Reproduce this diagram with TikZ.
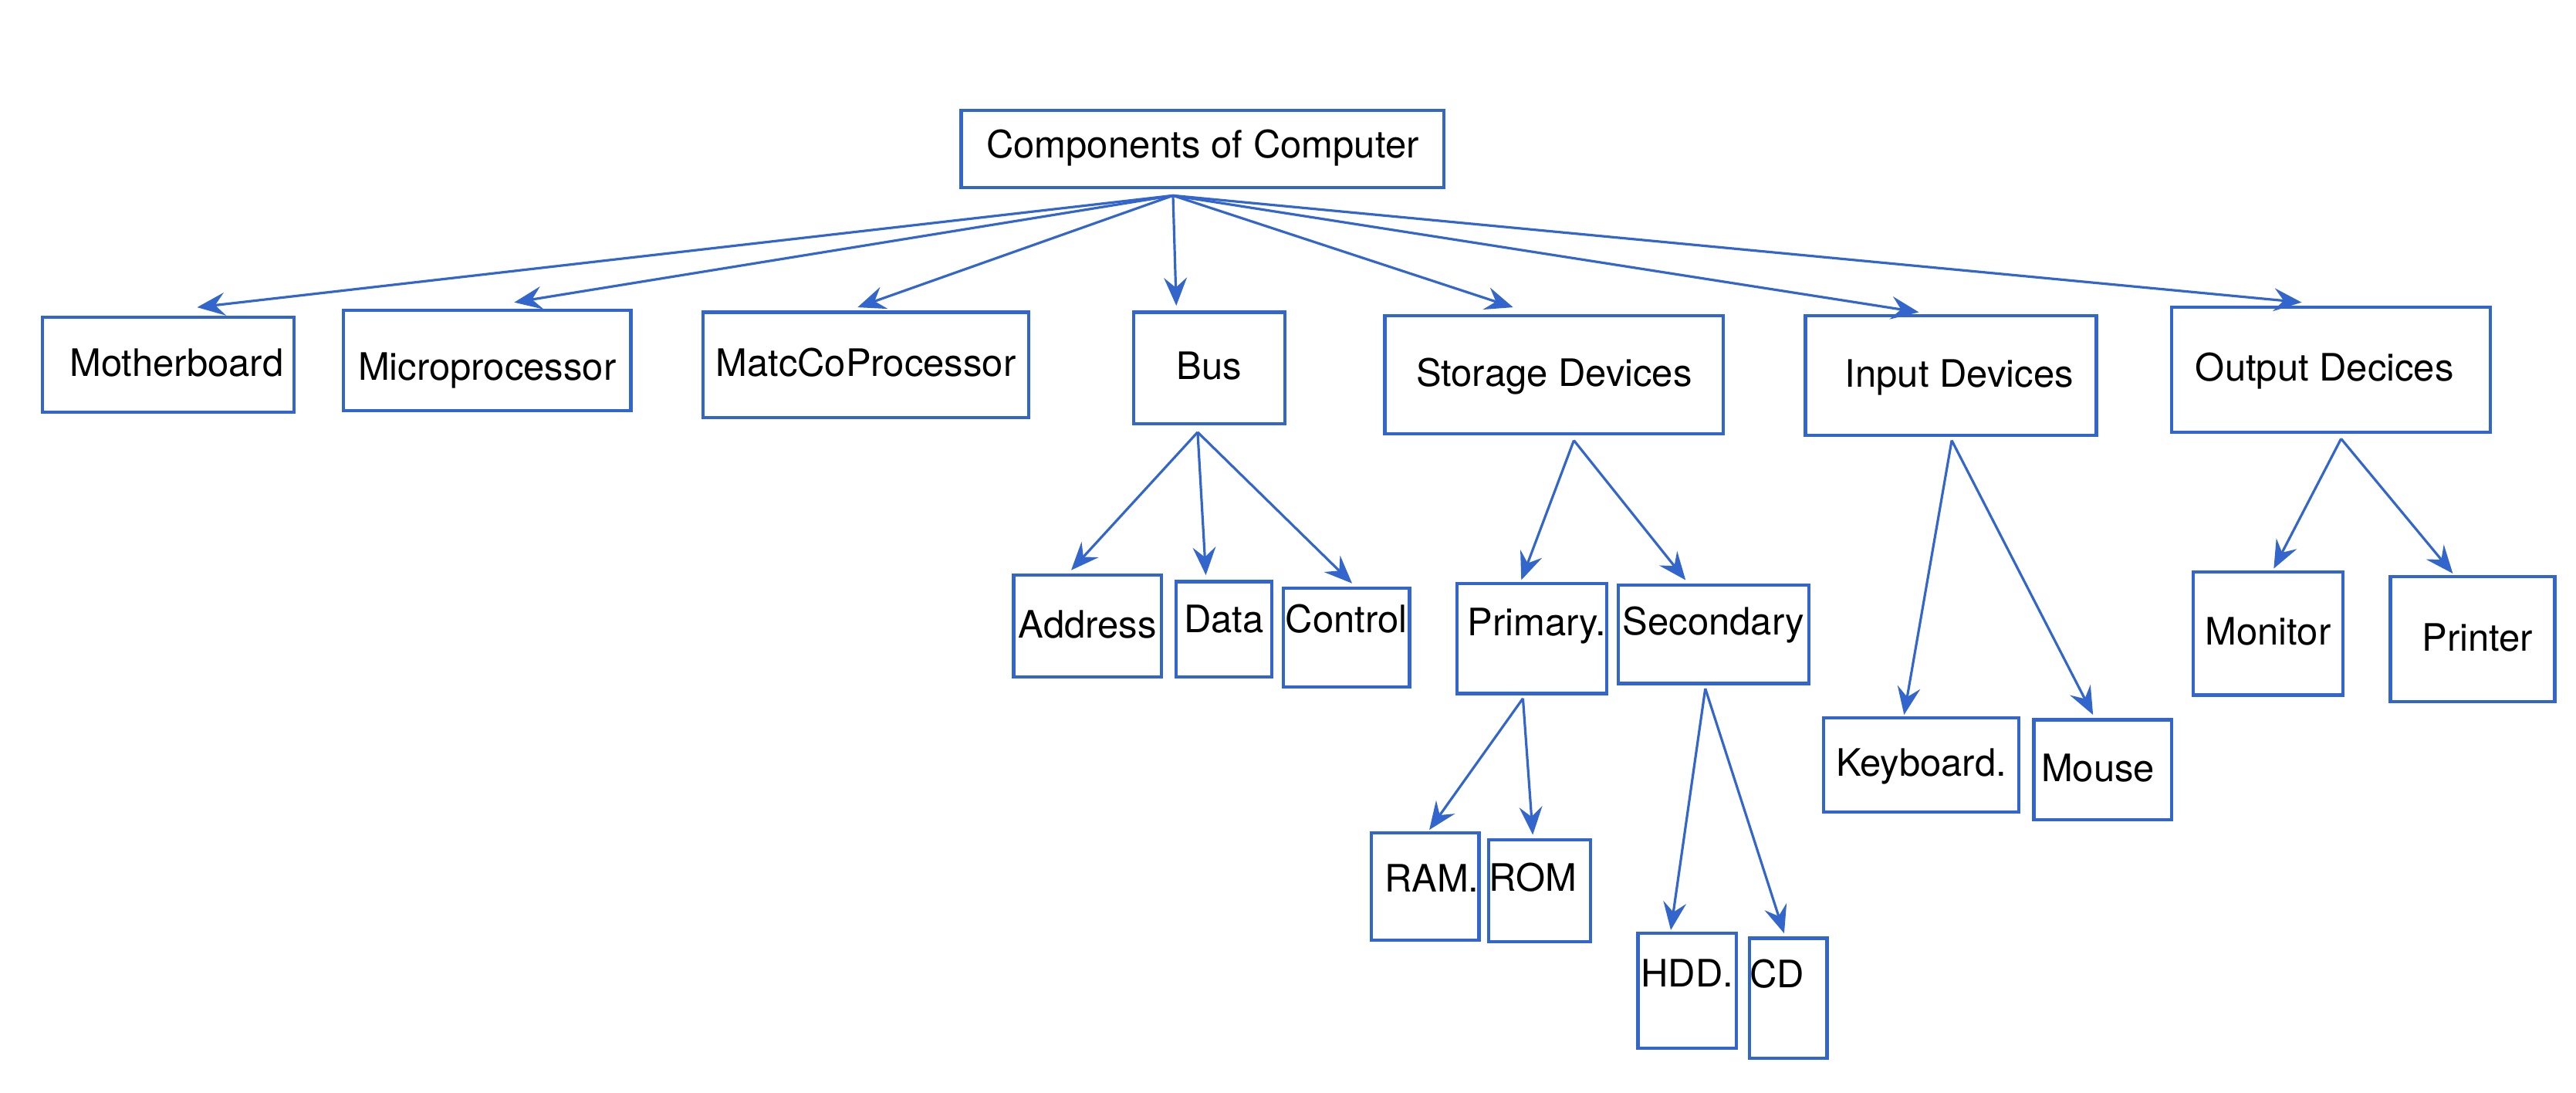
\documentclass[tikz,border=0pt]{standalone}
\usepackage{fontspec}
\setmainfont{TeX Gyre Heros}
\usepackage{tikz}
\usetikzlibrary{arrows.meta}
\definecolor{cblue}{HTML}{3366CC}

\begin{document}
\begin{tikzpicture}[x=1pt,y=-1pt]
    \tikzset{cbox/.style={draw=cblue, line width=2pt, inner sep=0pt,
        font=\fontsize{23}{27}\selectfont, text height=17pt, text depth=3pt}}
    \tikzset{arr/.style={draw=cblue, line width=1.5pt,
        -{Stealth[length=17pt,width=14pt,inset=6pt]}}}
    \useasboundingbox (0,0) rectangle (1568,665);

    \node[cbox, minimum width=294pt, minimum height=47pt, text depth=6pt] (root) at (732,90.5) {Components of Computer};

    \node[cbox, minimum width=153pt, minimum height=58pt] (mboard) at (102.5,222) {\kern10pt Motherboard};
    \node[cbox, minimum width=175pt, minimum height=61pt, text height=27pt] (mproc) at (296.5,219.5) {Microprocessor};
    \node[cbox, minimum width=198pt, minimum height=64pt] (mcop) at (527,222) {MatcCoProcessor};
    \node[cbox, minimum width=92pt, minimum height=68pt] (bus) at (736,224) {Bus};
    \node[cbox, minimum width=206pt, minimum height=72pt] (storage) at (946,228) {Storage Devices};
    \node[cbox, minimum width=177pt, minimum height=73pt] (input) at (1187.5,228.5) {\kern10pt Input Devices};
    \node[cbox, minimum width=194pt, minimum height=76pt] (output) at (1419,225) {Output Decices\kern8pt};

    \node[cbox, minimum width=90pt, minimum height=62pt] (addr) at (662,381) {Address};
    \node[cbox, minimum width=58pt, minimum height=58pt, text depth=13pt] (data) at (745,383) {Data};
    \node[cbox, minimum width=77pt, minimum height=60pt, text depth=23pt] (ctrl) at (819.5,388) {Control};

    \node[cbox, minimum width=91pt, minimum height=67pt, text depth=20pt] (prim) at (932.5,388.5) {\kern6pt Primary.};
    \node[cbox, minimum width=116pt, minimum height=60pt, text depth=16pt] (sec) at (1043,386) {Secondary};
    \node[cbox, minimum width=65pt, minimum height=65pt, text depth=10pt] (ram) at (867.5,539.5) {\kern8pt RAM.};
    \node[cbox, minimum width=62pt, minimum height=62pt, text depth=16pt] (rom) at (937,542) {ROM\kern8pt};
    \node[cbox, minimum width=60pt, minimum height=70pt, text depth=22pt] (hdd) at (1027,603) {HDD.};
    \node[cbox, minimum width=47pt, minimum height=73pt, text depth=30pt] (cd) at (1088.5,607.5) {CD\kern14pt};

    \node[cbox, minimum width=119pt, minimum height=57pt] (kbd) at (1169.5,465.5) {Keyboard.};
    \node[cbox, minimum width=84pt, minimum height=61pt] (mouse) at (1280,468.5) {Mouse\kern6pt};
    \node[cbox, minimum width=91pt, minimum height=75pt] (mon) at (1380.5,385.5) {Monitor};
    \node[cbox, minimum width=100pt, minimum height=76pt] (prn) at (1505,389) {\kern6pt Printer};

    \coordinate (root-o) at ([xshift=-18pt,yshift=-4pt]root.south);
    \coordinate (bus-o) at ([xshift=-7pt,yshift=-4pt]bus.south);
    \coordinate (storage-o) at ([xshift=12pt,yshift=-3pt]storage.south);
    \coordinate (prim-o) at ([xshift=-5.5pt,yshift=-2pt]prim.south);
    \coordinate (sec-o) at ([xshift=-5pt,yshift=-2pt]sec.south);
    \coordinate (input-o) at ([xshift=0.5pt,yshift=-2pt]input.south);
    \coordinate (output-o) at ([xshift=6pt,yshift=-3pt]output.south);

    \draw[arr] (root-o) -- ([xshift=17.5pt,yshift=5pt]mboard.north);
    \draw[arr] (root-o) -- ([xshift=16.5pt,yshift=4pt]mproc.north);
    \draw[arr] (root-o) -- ([xshift=-5pt,yshift=2pt]mcop.north);
    \draw[arr] (root-o) -- ([xshift=-20pt,yshift=3pt]bus.north);
    \draw[arr] (root-o) -- ([xshift=-25pt,yshift=4pt]storage.north);
    \draw[arr] (root-o) -- ([xshift=-19.5pt,yshift=1pt]input.north);
    \draw[arr] (root-o) -- ([xshift=-18pt,yshift=2pt]output.north);

    \draw[arr] (bus-o) -- ([xshift=-10pt,yshift=2pt]addr.north);
    \draw[arr] (bus-o) -- ([xshift=-11pt,yshift=3pt]data.north);
    \draw[arr] (bus-o) -- ([xshift=3.5pt,yshift=2pt]ctrl.north);

    \draw[arr] (storage-o) -- ([xshift=-6.5pt,yshift=1pt]prim.north);
    \draw[arr] (storage-o) -- ([xshift=-17pt,yshift=2pt]sec.north);
    \draw[arr] (prim-o) -- ([xshift=2.5pt,yshift=1pt]ram.north);
    \draw[arr] (prim-o) -- ([xshift=-4pt,yshift=2pt]rom.north);
    \draw[arr] (sec-o) -- ([xshift=-10pt,yshift=1pt]hdd.north);
    \draw[arr] (sec-o) -- ([xshift=-2.5pt,yshift=2pt]cd.north);

    \draw[arr] (input-o) -- ([xshift=-10.5pt,yshift=1pt]kbd.north);
    \draw[arr] (input-o) -- ([xshift=-6pt,yshift=2pt]mouse.north);
    \draw[arr] (output-o) -- ([xshift=3.5pt,yshift=1pt]mon.north);
    \draw[arr] (output-o) -- ([xshift=-12pt,yshift=1pt]prn.north);
\end{tikzpicture}
\end{document}
